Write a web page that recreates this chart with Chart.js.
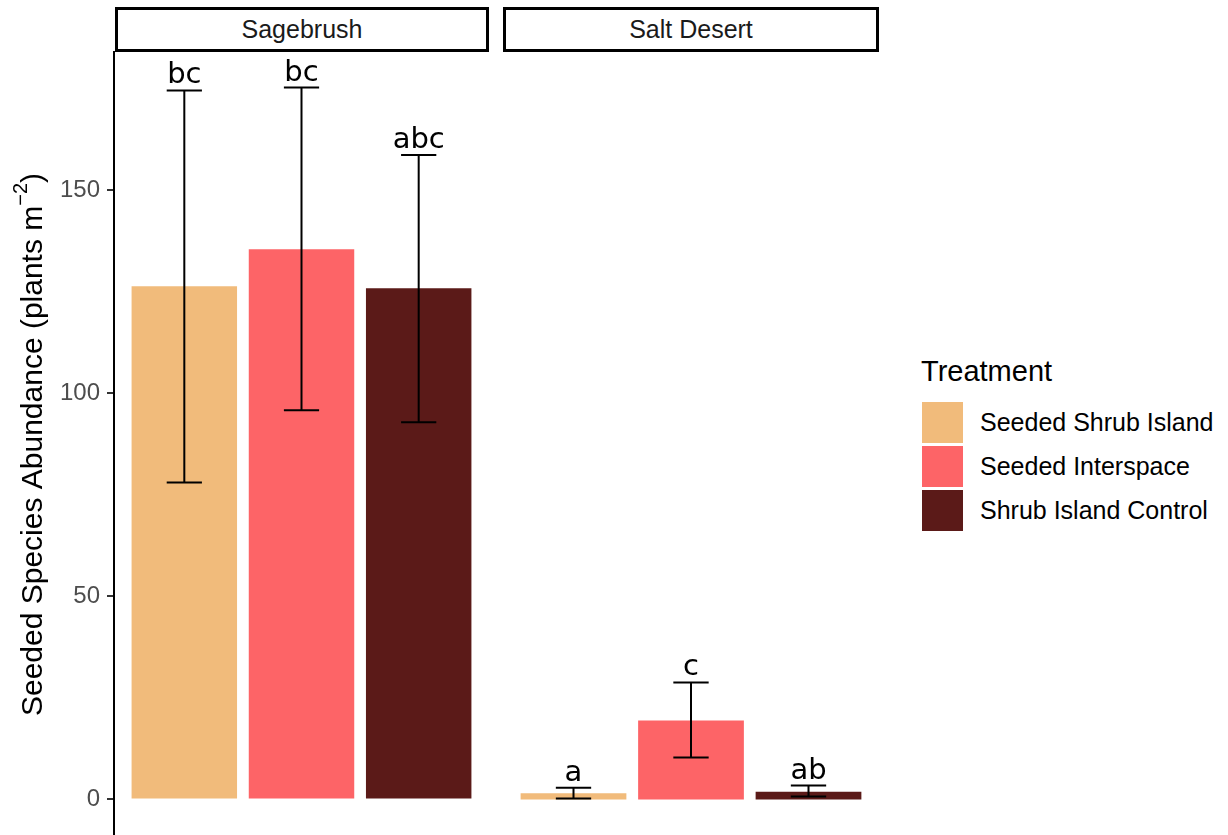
<!DOCTYPE html>
<html>
<head>
<meta charset="utf-8">
<script src="https://cdn.jsdelivr.net/npm/chart.js@4"></script>
<style>
  html, body { margin: 0; padding: 0; background: #fff; }
  body { width: 1228px; height: 835px; position: relative; overflow: hidden; font-family: "Liberation Sans", Arial, sans-serif; }
  canvas { position: absolute; top: 0; }
  .strip { position: absolute; top: 7px; height: 45px; box-sizing: border-box; border: 3px solid #000; background: #fff;
           display: flex; align-items: center; justify-content: center; font-size: 25px; color: #1a1a1a; }
  #legend { position: absolute; left: 921px; top: 0; }
  .leg-title { position: absolute; left: 0; top: 357px; font-size: 29px; line-height: 29px; color: #000; white-space: nowrap; }
  .leg-key { position: absolute; left: 1px; width: 41px; height: 41px; }
  .leg-label { position: absolute; left: 59px; font-size: 25px; line-height: 41px; color: #000; white-space: nowrap; }
</style>
</head>
<body>
<canvas id="sage" width="489" height="835" style="left:0"></canvas>
<canvas id="salt" width="376" height="835" style="left:503px"></canvas>
<div class="strip" id="strip0" style="left:115px; width:374px;"></div>
<div class="strip" id="strip1" style="left:503px; width:376px;"></div>
<div id="legend"></div>
<script>
// --- data ---
const sites = ['Sagebrush', 'Salt Desert'];
const treatments = ['Seeded Shrub Island', 'Seeded Interspace', 'Shrub Island Control'];
const colors = ['#F1BB7B', '#FD6467', '#5B1A18'];

const sageMean = [126.3, 135.4, 125.8];
const sageLower = [78.0, 95.8, 92.8];
const sageUpper = [174.5, 175.2, 158.6];
const sageLetters = ['bc', 'bc', 'abc'];

const saltMean = [1.5, 19.4, 1.9];
const saltLower = [0.2, 10.3, 0.7];
const saltUpper = [2.9, 28.8, 3.4];
const saltLetters = ['a', 'c', 'ab'];

const yTicks = [0, 50, 100, 150];
// axis title: main part, superscript, closing part
const yTitleParts = ['Seeded Species Abundance (plants m', '\u22122', ')'];

// ggplot-style 5% expansion around the data range
const yTop = Math.max(...sageUpper, ...saltUpper);
const yMin = -0.05 * yTop;
const yMax = yTop * 1.05;

// --- strips and legend ---
document.getElementById('strip0').textContent = sites[0];
document.getElementById('strip1').textContent = sites[1];

const legend = document.getElementById('legend');
const lt = document.createElement('div');
lt.className = 'leg-title';
lt.textContent = 'Treatment';
legend.appendChild(lt);
treatments.forEach((t, i) => {
  const key = document.createElement('div');
  key.className = 'leg-key';
  key.style.top = (402 + i * 44) + 'px';
  key.style.background = colors[i];
  legend.appendChild(key);
  const lab = document.createElement('div');
  lab.className = 'leg-label';
  lab.style.top = (402 + i * 44) + 'px';
  lab.textContent = t;
  legend.appendChild(lab);
});

// --- error bars + significance letters ---
const errorBars = {
  id: 'errorBars',
  afterDatasetsDraw(chart, args, opts) {
    const { ctx, scales: { y } } = chart;
    const meta = chart.getDatasetMeta(0);
    ctx.save();
    ctx.strokeStyle = '#000';
    ctx.fillStyle = '#000';
    ctx.lineWidth = 2;
    ctx.font = '29px "DejaVu Sans"';
    ctx.textAlign = 'center';
    ctx.textBaseline = 'alphabetic';
    meta.data.forEach((bar, i) => {
      const x = bar.x;
      const half = bar.width * 0.167;
      const lo = y.getPixelForValue(opts.lower[i]);
      const hi = y.getPixelForValue(opts.upper[i]);
      ctx.beginPath();
      ctx.moveTo(x, lo); ctx.lineTo(x, hi);
      ctx.moveTo(x - half, hi); ctx.lineTo(x + half, hi);
      ctx.moveTo(x - half, lo); ctx.lineTo(x + half, lo);
      ctx.stroke();
      ctx.fillText(opts.letters[i], x, hi - 7);
    });
    ctx.restore();
  }
};

// rotated y title with a real superscript
const yTitlePlugin = {
  id: 'yTitle',
  afterDraw(chart, args, opts) {
    if (!opts.show) return;
    const ctx = chart.ctx;
    const mainFont = '30px "Liberation Sans"';
    const supFont = '20px "Liberation Sans"';
    ctx.save();
    ctx.font = mainFont;
    const w0 = ctx.measureText(yTitleParts[0]).width;
    const w2 = ctx.measureText(yTitleParts[2]).width;
    ctx.font = supFont;
    const w1 = ctx.measureText(yTitleParts[1]).width;
    const total = w0 + w1 + w2;
    const cy = (chart.chartArea.top + chart.chartArea.bottom) / 2 + 1;
    ctx.translate(42, cy);
    ctx.rotate(-Math.PI / 2);
    ctx.fillStyle = '#000';
    ctx.textAlign = 'left';
    ctx.textBaseline = 'alphabetic';
    let x = -total / 2;
    ctx.font = mainFont;
    ctx.fillText(yTitleParts[0], x, 0);
    x += w0;
    ctx.font = supFont;
    ctx.fillText(yTitleParts[1], x, -15);
    x += w1;
    ctx.font = mainFont;
    ctx.fillText(yTitleParts[2], x, 0);
    ctx.restore();
  }
};

function makePanel(id, means, lower, upper, letters, showAxis) {
  return new Chart(document.getElementById(id), {
    type: 'bar',
    data: {
      datasets: [{
        data: means.map((v, i) => ({ x: i, y: v })),
        backgroundColor: colors,
        borderWidth: 0,
        barPercentage: 0.9,
        categoryPercentage: 1
      }]
    },
    options: {
      responsive: false,
      animation: false,
      layout: { padding: { top: 52, left: 0, right: 0, bottom: 0 } },
      plugins: {
        legend: { display: false },
        tooltip: { enabled: false },
        errorBars: { lower: lower, upper: upper, letters: letters },
        yTitle: { show: showAxis }
      },
      scales: {
        x: {
          type: 'linear', min: -0.6, max: 2.6, display: false, offset: false,
          afterBuildTicks: s => { s.ticks = treatments.map((t, i) => ({ value: i })); }
        },
        y: {
          display: showAxis,
          min: yMin,
          max: yMax,
          afterBuildTicks: s => { s.ticks = yTicks.map(v => ({ value: v })); },
          afterFit: s => {
            if (showAxis) s.width = 114;
            s.paddingTop = 0;
            s.paddingBottom = 0;
          },
          ticks: { color: '#4d4d4d', font: { family: 'Liberation Sans', size: 24 }, padding: 7 },
          grid: { drawOnChartArea: false, drawTicks: true, tickLength: 7, color: '#333333', lineWidth: 2 },
          border: { display: true, color: '#000', width: 2 }
        }
      }
    },
    plugins: [errorBars, yTitlePlugin]
  });
}

makePanel('sage', sageMean, sageLower, sageUpper, sageLetters, true);
makePanel('salt', saltMean, saltLower, saltUpper, saltLetters, false);
</script>
</body>
</html>
